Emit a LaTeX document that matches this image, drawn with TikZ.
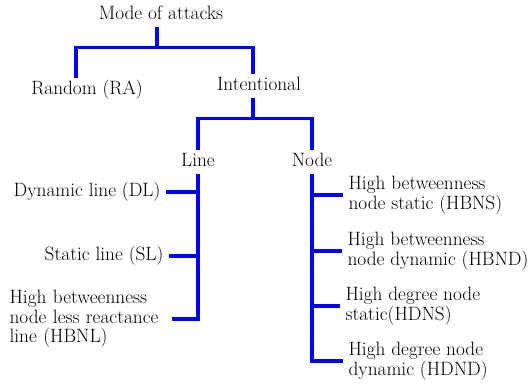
\documentclass[tikz,border=0pt]{standalone}
\usetikzlibrary{positioning}

\begin{document}
\begin{tikzpicture}[x=1pt,y=-1pt,on grid,node distance=75pt,
      font=\fontsize{19.3}{19.5}\selectfont,line width=3.2pt,blue,
      lbl/.style={black,inner sep=2pt,text height=13pt,text depth=4pt},
      leaf/.style={black,inner xsep=4pt,inner ysep=2pt,align=left}]
  \useasboundingbox (0,0) rectangle (530,384);
  \node[lbl] (mode) at (161,15) {Mode of attacks};
  \node[lbl] (random) [below left=75pt and 74pt of mode] {Random (RA)};
  \node[lbl] (intent) [below right=71pt and 98pt of mode] {Intentional};
  \node[lbl] (lineatk) [below left=76pt and 61pt of intent] {Line};
  \node[lbl] (nodeatk) [right=114pt of lineatk] {Node};
  \node[leaf,anchor=east] (dl) at (166,192) {Dynamic line (DL)};
  \node[leaf,anchor=east] (sl) at (169,256) {Static line (SL)};
  \node[leaf,anchor=west,text width=157pt] (hbnl) at (4,319)
    {High betweenness\\node less reactance\\line (HBNL)};
  \node[leaf,anchor=west] (hbns) at (343,195) {High betweenness\\node static (HBNS)};
  \node[leaf,anchor=west] (hbnd) at (342,251) {High betweenness\\node dynamic (HBND)};
  \node[leaf,anchor=west] (hdns) at (340,306) {High degree node\\static(HDNS)};
  \node[leaf,anchor=west] (hdnd) at (343,361) {High degree node\\dynamic (HDND)};
  \draw ([xshift=-4pt]mode.south) -- ++(0,20) coordinate (top);
  \draw ([xshift=-11pt]random.north) |- (top) -| ([xshift=-6pt]intent.north);
  \draw ([xshift=-6pt]intent.south) -- ++(0,20) coordinate (mid);
  \draw (lineatk.north) |- (mid) -| (nodeatk.north);
  \draw (lineatk.south) |- (hbnl.east);
  \draw (lineatk.south |- dl.east) -- (dl.east);
  \draw (lineatk.south |- sl.east) -- (sl.east);
  \draw (nodeatk.south) |- (hdnd.west);
  \draw (nodeatk.south |- hbns.west) -- (hbns.west);
  \draw (nodeatk.south |- hbnd.west) -- (hbnd.west);
  \draw (nodeatk.south |- hdns.west) -- (hdns.west);
\end{tikzpicture}
\end{document}
